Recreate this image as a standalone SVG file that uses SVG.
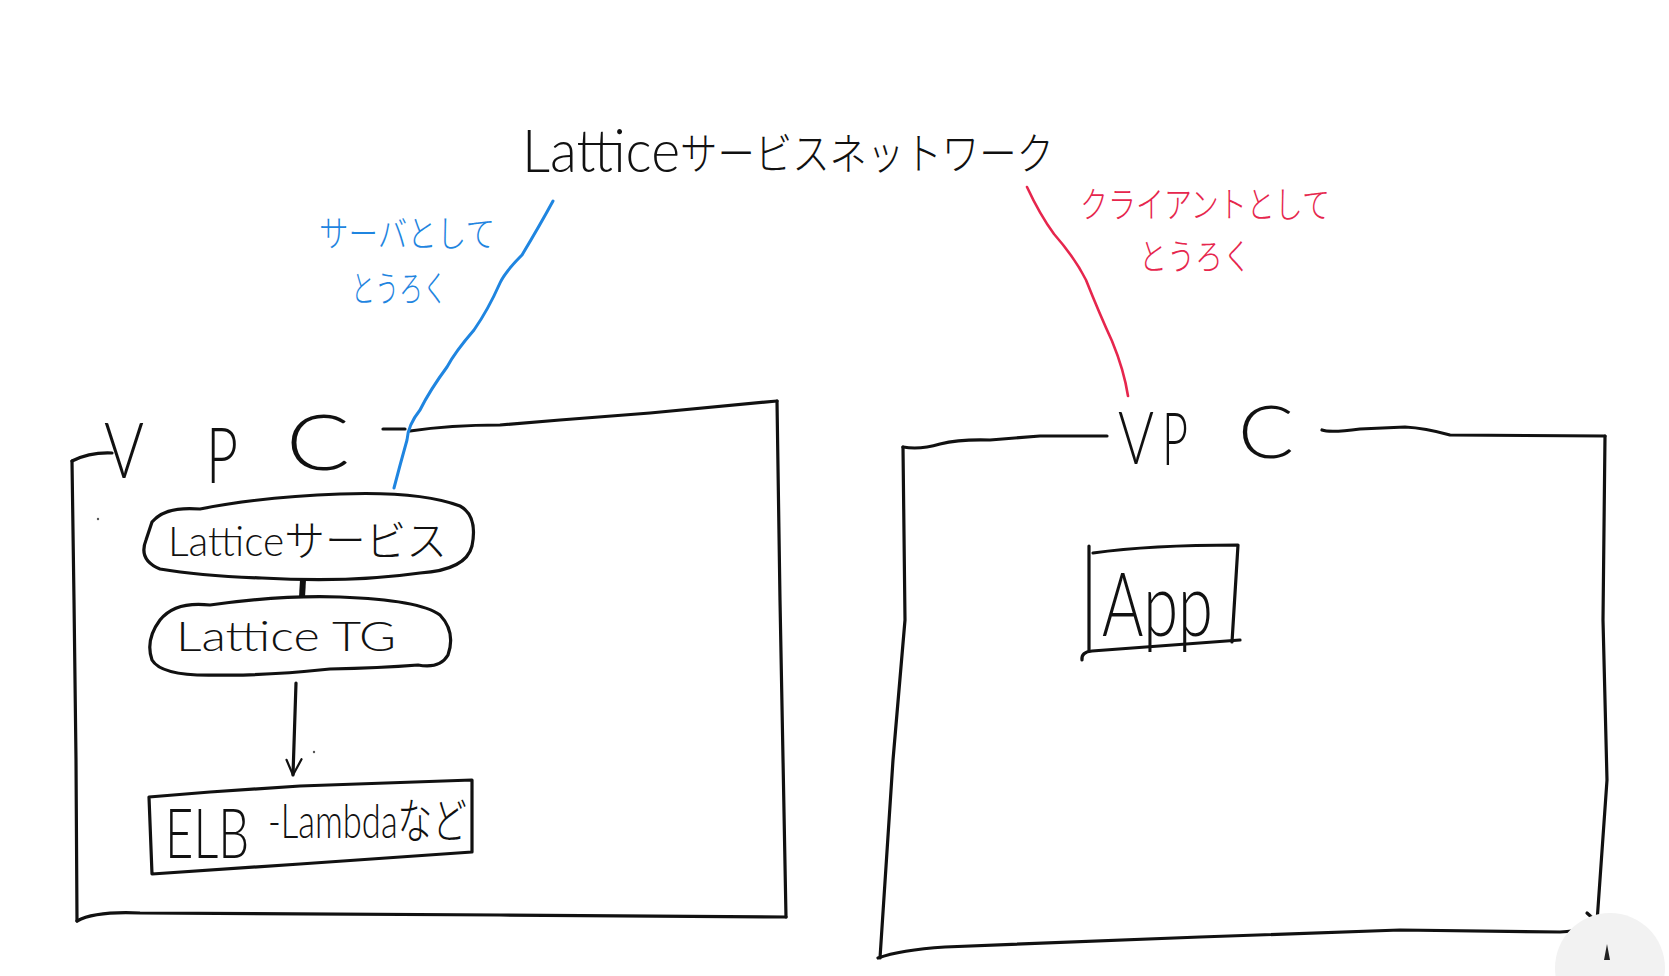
<svg xmlns="http://www.w3.org/2000/svg" width="1669" height="976" viewBox="0 0 1669 976">
<style>
.ink{fill:none;stroke:#111;stroke-width:3.2;stroke-linecap:round;stroke-linejoin:round}
.blue{fill:none;stroke:#1f85e0;stroke-width:3;stroke-linecap:round;stroke-linejoin:round}
.red{fill:none;stroke:#e6264d;stroke-width:2.6;stroke-linecap:round;stroke-linejoin:round}
.t{font-family:"Lato","Noto Sans CJK JP",sans-serif;font-weight:300;fill:#111}
.j{font-family:"Noto Sans CJK JP","Lato",sans-serif;font-weight:300}
</style>
<defs>
<marker id="open" viewBox="0 0 20 20" refX="18" refY="10" markerWidth="20" markerHeight="20" markerUnits="userSpaceOnUse" orient="auto">
<path d="M2 2 L18 10 L3 17" fill="none" stroke="#111" stroke-width="2.2" stroke-linecap="round" stroke-linejoin="round"/>
</marker>
</defs>
<rect width="1669" height="976" fill="#ffffff"/>

<g id="title">
<text class="t" x="522" y="172" font-size="60" textLength="158" lengthAdjust="spacingAndGlyphs">Lattice</text>
<text class="t j" x="680" y="170" font-size="44" textLength="374" lengthAdjust="spacingAndGlyphs">サービスネットワーク</text>
</g>

<g id="label-server">
<text class="j" x="319" y="247" font-size="36" fill="#1f85e0" textLength="176" lengthAdjust="spacingAndGlyphs">サーバとして</text>
<text class="j" x="351" y="302" font-size="36" fill="#1f85e0" textLength="96" lengthAdjust="spacingAndGlyphs">とうろく</text>
</g>

<g id="label-client">
<text class="j" x="1080" y="218" font-size="36" fill="#e6264d" textLength="250" lengthAdjust="spacingAndGlyphs">クライアントとして</text>
<text class="j" x="1139" y="270" font-size="36" fill="#e6264d" textLength="112" lengthAdjust="spacingAndGlyphs">とうろく</text>
</g>

<g id="vpc-left">
<path class="ink" d="M72 461 Q 90 452 112 453"/>
<path class="ink" d="M72 461 L 74 600 L 76 760 L 77 921"/>
<path class="ink" d="M77 921 Q 95 911 140 913 L 500 915 L 786 917"/>
<path class="ink" d="M777 401 L 780 600 L 786 917"/>
<path class="ink" d="M383 429 L 405 429"/>
<path class="ink" d="M410 431 Q 450 425 500 425 L 560 420 L 650 413 L 777 401"/>
<text class="t" x="104" y="478" font-size="76" textLength="40" lengthAdjust="spacingAndGlyphs">V</text>
<text class="t" x="206" y="483" font-size="76" textLength="32" lengthAdjust="spacingAndGlyphs">P</text>
<text class="t" x="286" y="470" font-size="76" textLength="64" lengthAdjust="spacingAndGlyphs">C</text>
<circle cx="98" cy="519" r="1.2" fill="#555"/>
</g>

<g id="lattice-service">
<path class="ink" d="M152 522 Q 165 506 200 509 Q 260 497 340 494 Q 420 491 460 506 Q 478 516 472 546 Q 466 570 420 573 Q 350 583 262 578 Q 200 576 160 569 Q 138 560 146 540 Z"/>
<text class="t" x="168" y="556" font-size="42" textLength="279" lengthAdjust="spacingAndGlyphs">Latticeサービス</text>
</g>

<g id="lattice-tg">
<path class="ink" d="M160 620 Q 175 601 210 605 Q 280 595 340 597 Q 420 600 440 615 Q 456 632 448 655 Q 440 669 418 665 Q 380 668 330 669 Q 262 676 220 675 Q 162 677 152 660 Q 145 640 160 620 Z"/>
<text class="t" x="176" y="651" font-size="42" textLength="220" lengthAdjust="spacingAndGlyphs">Lattice TG</text>
</g>

<g id="elb">
<path class="ink" d="M149 797 L 210 792 L 300 786 L 472 780 L 472 852 L 300 864 L 152 874 Z"/>
<text class="t" transform="translate(165,858) scale(0.7,1)" x="0" y="0" font-size="70">ELB</text>
<text class="t" transform="translate(268,838) scale(0.72,1)" x="0" y="0" font-size="48">-Lambdaなど</text>
</g>

<g id="vpc-right">
<path class="ink" d="M903 447 Q 920 450 940 444 Q 960 439 990 440 L 1040 436 L 1107 436"/>
<path class="ink" d="M903 447 L 905 620 L 893 760 L 880 958"/>
<path class="ink" d="M878 958 Q 900 950 945 947 L 1200 937 L 1400 930 L 1560 932 Q 1590 930 1597 922"/>
<path class="ink" d="M1605 436 L 1603 620 L 1607 780 L 1597 922"/>
<path class="ink" d="M1587 913 L 1597 922"/>
<path class="ink" d="M1322 430 Q 1330 433 1360 429 L 1405 427 Q 1425 428 1450 435 L 1605 436"/>
<text class="t" x="1118" y="464" font-size="72" textLength="36" lengthAdjust="spacingAndGlyphs">V</text>
<text class="t" x="1162" y="465" font-size="72" textLength="26" lengthAdjust="spacingAndGlyphs">P</text>
<text class="t" x="1238" y="458" font-size="72" textLength="56" lengthAdjust="spacingAndGlyphs">C</text>
</g>

<g id="app">
<path class="ink" d="M1089 546 L 1089 651"/>
<path class="ink" d="M1093 553 Q 1150 545 1238 545 L 1232 642"/>
<path class="ink" d="M1082 660 Q 1081 652 1092 651 L 1240 640"/>
<text class="t" x="1102" y="636" font-size="88" textLength="111" lengthAdjust="spacingAndGlyphs">App</text>
</g>

<g id="connectors">
<path class="blue" d="M553 201 Q 540 225 522 255 Q 505 272 500 283 Q 488 310 474 330 Q 455 352 447 367 Q 430 390 420 410 Q 408 425 407 440 Q 400 465 394 488"/>
<path class="red" d="M1027 187 Q 1040 215 1054 234 Q 1075 258 1086 280 Q 1100 315 1112 341 Q 1124 370 1128 396"/>
<path d="M303 580 L 302 597" stroke="#111" stroke-width="6" fill="none"/>
<path class="ink" d="M296 683 L 293 775" marker-end="url(#open)"/>
<circle cx="314" cy="752" r="1.2" fill="#555"/>
</g>

<g id="cursor">
<circle cx="1610" cy="968" r="55" fill="#f2f2f2"/>
<path d="M1604 960 L 1607 944 L 1610 960 Z" fill="#222"/>
</g>
</svg>
